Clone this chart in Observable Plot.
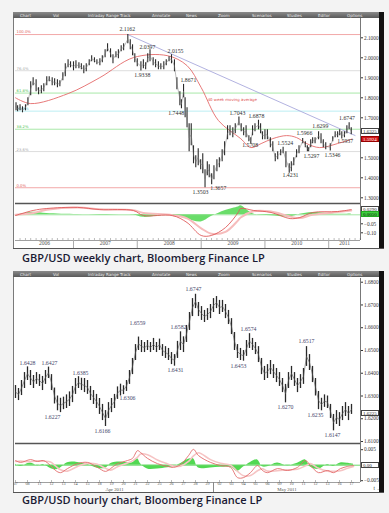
<!DOCTYPE html>
<html><head><meta charset="utf-8">
<script src="https://cdn.jsdelivr.net/npm/d3@7"></script>
<script src="https://cdn.jsdelivr.net/npm/@observablehq/plot@0.6"></script>
<style>
html,body{margin:0;padding:0}
body{width:389px;height:513px;background:#f3f3f3;position:relative;overflow:hidden}
.toolbar{position:absolute;height:6px;background:linear-gradient(#8a8a8a,#5a5a5a);overflow:hidden}
.toolbar span{position:absolute;top:0.5px;font:4px "DejaVu Sans";color:#eee;white-space:nowrap}
.cap{position:absolute;left:22px;font:600 11px "Open Sans";color:#1a1a33;white-space:nowrap;line-height:16px}
.tag{position:absolute;font:5px "Liberation Serif";white-space:nowrap;padding-left:1px;box-sizing:border-box}
</style></head><body>
<script>
// ================= WEEKLY CHART DATA =================
const weeklyDates = ["2006-02-06","2006-02-15","2006-03-01","2006-03-15","2006-04-01","2006-04-15","2006-05-01","2006-05-15","2006-06-01","2006-06-15","2006-07-01","2006-07-15","2006-08-01","2006-08-15","2006-09-01","2006-09-15","2006-10-01","2006-10-15","2006-11-01","2006-11-15","2006-12-01","2006-12-15",
"2007-01-01","2007-01-15","2007-02-01","2007-02-15","2007-03-01","2007-03-15","2007-04-01","2007-04-15","2007-05-01","2007-05-15","2007-06-01","2007-06-15","2007-07-01","2007-07-15","2007-08-01","2007-08-15","2007-09-01","2007-09-15","2007-10-01","2007-10-15","2007-11-08","2007-11-22","2007-12-05","2007-12-18",
"2008-01-01","2008-01-22","2008-02-05","2008-02-18","2008-03-01","2008-03-14","2008-04-01","2008-04-15","2008-05-01","2008-05-15","2008-06-01","2008-06-15","2008-07-01","2008-07-15","2008-08-01","2008-08-15","2008-09-01","2008-09-10","2008-09-22","2008-10-01","2008-10-12","2008-10-24","2008-11-05","2008-11-18","2008-12-01","2008-12-15","2008-12-29",
"2009-01-10","2009-01-23","2009-02-05","2009-02-16","2009-03-02","2009-03-15","2009-04-01","2009-04-15","2009-05-01","2009-05-15","2009-06-01","2009-06-15","2009-07-01","2009-07-15","2009-08-05","2009-08-18","2009-09-01","2009-09-15","2009-10-01","2009-10-12","2009-10-22","2009-11-05","2009-11-25","2009-12-07","2009-12-18",
"2010-01-01","2010-01-15","2010-02-01","2010-02-15","2010-03-01","2010-03-15","2010-04-01","2010-04-15","2010-05-01","2010-05-20","2010-06-01","2010-06-15","2010-07-01","2010-07-15","2010-08-05","2010-08-20","2010-09-01","2010-09-08","2010-09-20","2010-10-01","2010-10-15","2010-11-04","2010-11-18","2010-12-01","2010-12-15",
"2011-01-10","2011-01-24","2011-02-07","2011-02-21","2011-03-05","2011-03-17","2011-04-01","2011-04-15","2011-04-28","2011-05-10"];
const weeklyLow = [1.735,1.730,1.735,1.725,1.735,1.760,1.810,1.860,1.830,1.815,1.820,1.830,1.860,1.880,1.860,1.860,1.850,1.855,1.885,1.905,1.950,1.950,
1.935,1.945,1.945,1.940,1.920,1.930,1.960,1.980,1.975,1.965,1.960,1.975,2.000,2.030,2.000,1.970,2.000,1.995,2.030,2.035,2.070,2.040,2.010,1.975,
1.955,1.9338,1.945,1.940,1.975,1.980,1.960,1.950,1.940,1.940,1.940,1.960,1.980,1.970,1.930,1.840,1.760,1.7448,1.800,1.700,1.650,1.530,1.560,1.470,1.450,1.460,1.440,
1.420,1.3503,1.410,1.400,1.3657,1.390,1.430,1.450,1.480,1.510,1.590,1.610,1.600,1.620,1.660,1.630,1.610,1.600,1.580,1.5708,1.610,1.630,1.640,1.620,1.590,
1.590,1.590,1.550,1.530,1.480,1.490,1.510,1.520,1.450,1.4231,1.430,1.460,1.500,1.520,1.570,1.550,1.530,1.5297,1.550,1.570,1.570,1.590,1.570,1.550,1.540,
1.5346,1.580,1.600,1.600,1.610,1.5937,1.600,1.620,1.640,1.615];
const weeklyHigh = [1.775,1.760,1.765,1.755,1.765,1.800,1.880,1.900,1.890,1.850,1.860,1.870,1.905,1.905,1.900,1.895,1.890,1.885,1.925,1.970,1.990,1.980,
1.980,1.985,1.975,1.970,1.960,1.970,1.990,2.010,2.000,1.990,1.995,2.010,2.040,2.070,2.045,2.015,2.030,2.040,2.060,2.070,2.1162,2.090,2.065,2.020,
1.995,1.980,1.990,1.975,2.020,2.0397,2.000,1.990,1.980,1.970,1.980,1.990,2.005,2.0155,1.990,1.900,1.830,1.790,1.8671,1.800,1.750,1.670,1.670,1.560,1.510,1.545,1.490,
1.520,1.440,1.480,1.465,1.420,1.460,1.490,1.500,1.540,1.580,1.660,1.660,1.650,1.670,1.7043,1.670,1.650,1.660,1.610,1.600,1.660,1.670,1.6878,1.670,1.630,
1.640,1.640,1.600,1.580,1.520,1.530,1.540,1.5524,1.530,1.470,1.480,1.500,1.540,1.560,1.5966,1.580,1.560,1.550,1.590,1.600,1.600,1.6299,1.620,1.590,1.575,
1.570,1.605,1.630,1.630,1.640,1.630,1.630,1.660,1.6747,1.650];

const maDates = ["2006-02-03","2006-05-01","2006-12-01","2007-06-01","2007-12-10","2008-06-20","2008-10-12","2009-01-01","2009-04-10","2009-08-15","2009-10-12","2009-12-10","2010-02-15","2010-05-05","2010-07-01","2010-08-28","2010-11-10","2011-02-20","2011-05-15"];
const maValues = [1.800,1.771,1.821,1.901,2.001,2.011,1.961,1.851,1.686,1.596,1.551,1.571,1.596,1.611,1.601,1.571,1.551,1.571,1.594];

const trendDates = ["2007-11-08","2011-06-01"];
const trendValues = [2.1162, 1.6115];

const fibHigh = 2.1162, fibLow = 1.3503;
const fibRatios = [1, 0.764, 0.618, 0.5, 0.382, 0.236, 0];
const fibNames = ["100.0%","76.4%","61.8%","50.0%","38.2%","23.6%","0.0%"];
const fibLineColors = ["#f2a8a8","#dddddd","#a8e8a8","#bdeef3","#a8e8a8","#dddddd","#f2a8a8"];
const fibTextColors = ["#e06060","#aaaaaa","#55c455","#66c6d2","#55c455","#aaaaaa","#e06060"];

const weeklyLabelText = ["2.1162","2.0397","2.0155","1.9338","1.8671","1.7448","1.7043","1.6878","1.6299","1.6747","1.5966","1.5524","1.5297","1.5346","1.5937","1.5708","1.4231","1.3503","1.3657"];
const weeklyLabelDates = ["2007-11-05","2008-02-28","2008-08-07","2008-01-30","2008-10-20","2008-08-11","2009-07-27","2009-11-13","2010-11-14","2011-04-16","2010-08-15","2010-04-27","2010-09-24","2011-01-23","2011-04-05","2009-10-08","2010-05-27","2008-12-28","2009-04-09"];
const weeklyLabelPrices = [2.1415,2.0515,2.0315,1.9115,1.8865,1.7215,1.7215,1.7065,1.6565,1.6965,1.6215,1.5715,1.508,1.5115,1.583,1.5615,1.411,1.328,1.346];
const maLabelText = ["40 week moving average"];
const maLabelDates = ["2009-06-28"];
const maLabelPrices = [1.79];

const weeklyPriceTicks = [2.1,2.0,1.9,1.8,1.7,1.5,1.4,1.3];
const weeklyLastPrice = 1.6325;
const weeklyMaTag = 1.5924;

const weeklyOscDates = ["2006-02-03","2006-05-15","2006-08-01","2007-01-25","2007-06-01","2007-12-10","2008-02-05","2008-07-20","2008-10-12","2009-01-01","2009-02-28","2009-05-20","2009-08-01","2009-08-15","2009-10-28","2010-02-05","2010-05-25","2010-07-20","2010-10-01","2011-02-20","2011-05-10"];
const weeklyMacd = [-0.004,0.024,0.035,0.041,0.029,0.024,-0.004,-0.004,-0.043,-0.115,-0.115,-0.071,0.013,0.035,0.024,0.013,-0.021,-0.015,0.013,0.018,0.029];
const weeklySignal = [0.000,0.010,0.028,0.040,0.031,0.025,0.010,-0.002,-0.020,-0.075,-0.105,-0.095,-0.030,-0.015,0.020,0.018,-0.010,-0.018,0.000,0.015,0.024];
const weeklyOscTicks = [-0.05,-0.10];

const yearLabels = ["2006","2007","2008","2009","2010","2011"];
const yearStarts = ["2006-01-01","2007-01-01","2008-01-01","2009-01-01","2010-01-01","2011-01-01","2012-01-01"];

// ================= HOURLY CHART DATA =================
const hourlyStep = 0.25; // trading days between samples
const hourlyHigh = [1.6346,1.6333,1.6368,1.6403,1.6428,1.6412,1.6390,1.6403,1.6394,1.6386,1.6412,1.6427,1.6394,1.6335,1.6300,1.6290,1.6295,1.6305,1.6318,1.6342,
1.6377,1.6385,1.6378,1.6377,1.6368,1.6342,1.6324,1.6307,1.6289,1.6263,1.6236,1.6271,1.6289,1.6307,1.6340,1.6352,1.6345,1.6368,1.6412,1.6465,
1.6526,1.6559,1.6544,1.6535,1.6544,1.6535,1.6553,1.6535,1.6550,1.6526,1.6517,1.6509,1.6491,1.6482,1.6540,1.6582,1.6560,1.6610,1.6667,1.6728,
1.6747,1.6711,1.6693,1.6676,1.6684,1.6702,1.6728,1.6737,1.6720,1.6720,1.6702,1.6676,1.6640,1.6579,1.6526,1.6509,1.6500,1.6544,1.6574,1.6553,
1.6535,1.6517,1.6465,1.6430,1.6438,1.6456,1.6438,1.6421,1.6403,1.6377,1.6351,1.6403,1.6430,1.6403,1.6377,1.6394,1.6421,1.6517,1.6482,1.6430,
1.6377,1.6320,1.6290,1.6305,1.6300,1.6263,1.6219,1.6236,1.6227,1.6254,1.6271,1.6254,1.6263];
const hourlyLow = [1.6289,1.6280,1.6302,1.6333,1.6368,1.6346,1.6333,1.6351,1.6342,1.6324,1.6351,1.6377,1.6324,1.6265,1.6235,1.6227,1.6240,1.6245,1.6254,1.6271,
1.6307,1.6333,1.6324,1.6315,1.6307,1.6280,1.6263,1.6245,1.6219,1.6192,1.6166,1.6201,1.6227,1.6245,1.6285,1.6300,1.6306,1.6320,1.6351,1.6394,
1.6456,1.6500,1.6491,1.6491,1.6500,1.6491,1.6500,1.6491,1.6500,1.6474,1.6465,1.6456,1.6438,1.6431,1.6465,1.6500,1.6491,1.6535,1.6588,1.6649,
1.6684,1.6649,1.6632,1.6623,1.6632,1.6640,1.6667,1.6684,1.6658,1.6667,1.6640,1.6614,1.6570,1.6500,1.6465,1.6456,1.6453,1.6474,1.6509,1.6500,
1.6482,1.6447,1.6394,1.6368,1.6377,1.6394,1.6377,1.6359,1.6342,1.6315,1.6270,1.6333,1.6368,1.6342,1.6315,1.6333,1.6351,1.6430,1.6412,1.6359,
1.6300,1.6240,1.6235,1.6250,1.6245,1.6201,1.6147,1.6175,1.6166,1.6192,1.6210,1.6192,1.6219];

const hourlyLabelText = ["1.6428","1.6427","1.6385","1.6227","1.6166","1.6306","1.6559","1.6431","1.6582","1.6747","1.6453","1.6574","1.6270","1.6517","1.6235","1.6147"];
const hourlyLabelT = [1.0,2.83,5.42,3.08,7.25,9.33,10.17,13.33,13.58,14.83,18.58,19.42,22.5,24.25,25.0,26.42];
const hourlyLabelPrice = [1.6443,1.6443,1.6399,1.6205,1.6144,1.6289,1.6619,1.6412,1.6601,1.6768,1.6430,1.6592,1.6249,1.6539,1.6214,1.6126];

const hourlyPriceTicks = [1.68,1.67,1.66,1.65,1.64,1.63,1.62,1.61];
const hourlyLastPrice = 1.6225;

const hourlyOscT = [0.0,0.42,1.25,1.83,2.33,2.92,3.33,3.75,4.33,5.17,6.0,6.83,7.5,7.92,8.5,9.33,9.75,10.17,10.42,11.0,11.83,12.67,13.17,13.75,14.42,14.83,15.25,16.25,17.08,17.92,18.5,19.0,19.58,20.17,20.58,21.0,21.83,22.67,23.5,24.17,24.58,25.25,26.0,26.5,27.08,27.67,28.17];
const hourlyMacd = [0.0015,0.0009,0.0018,0.0012,0.0015,-0.0001,-0.0017,-0.0024,-0.0011,0.0005,0.0009,-0.0007,-0.0020,-0.0011,0.0005,0.0015,0.0022,0.0047,0.0041,0.0022,0.0005,-0.0004,-0.0007,0.0002,0.0031,0.0051,0.0031,0.0009,-0.0001,-0.0007,-0.0040,-0.0040,-0.0024,-0.0001,-0.0017,-0.0024,-0.0011,-0.0017,-0.0007,0.0015,-0.0001,-0.0024,-0.0017,-0.0024,-0.0011,-0.0004,-0.0001];
const hourlySignal = [0.0012,0.0013,0.0011,0.0014,0.0013,0.0010,-0.0002,-0.0015,-0.0019,-0.0004,0.0006,0.0003,-0.0010,-0.0016,-0.0005,0.0007,0.0014,0.0026,0.0036,0.0034,0.0017,0.0004,-0.0003,-0.0003,0.0012,0.0030,0.0040,0.0018,0.0006,0.0000,-0.0020,-0.0034,-0.0033,-0.0018,-0.0012,-0.0019,-0.0018,-0.0015,-0.0013,-0.0002,0.0005,-0.0010,-0.0019,-0.0020,-0.0018,-0.0010,-0.0004];
const hourlyOscTicks = [0.005,-0.005];
const hourlyOscTagText = "0.00";

const dayLabels = ["07","08","11","12","13","14","15","18","19","20","21","22","25","26","27","28","29","02","03","04","05","06","09","10","11","12","13","16","17"];
const monthLabels = ["Apr 2011","May 2011"];
const monthBreaks = [16.5];

// ================= BUILD =================
const parse = d3.utcParse("%Y-%m-%d");
const W = 371;
const baseStyle = {background:"transparent", fontFamily:"'Liberation Serif', serif", fontSize:"5.3px", color:"#333", overflow:"visible"};

function addDiv(cls, css, text){ const d=document.createElement("div"); if(cls) d.className=cls; Object.assign(d.style, css); if(text!=null) d.textContent=text; document.body.appendChild(d); return d; }
function mount(fig,left,top){ Object.assign(fig.style,{position:"absolute",left:left+"px",top:top+"px"}); document.body.appendChild(fig); return fig; }
function yOf(fig, v){ const s=fig.scale("y"); if (s && typeof s.apply==="function") return s.apply(v); const [d0,d1]=s.domain,[r0,r1]=s.range; return r0+(v-d0)/(d1-d0)*(r1-r0); }
function tag(fig, top, v, text, bg, fg, border){ const y = top + yOf(fig, v); addDiv("tag",{left:"361px", top:(y-3)+"px", width:"18px", height:"6px", lineHeight:"6px", background:bg, color:fg, border:"0.6px solid "+border}, text); }
const toolbarItems = [["Chart",20],["Vol",53],["Intraday Range",88],["Track",120],["Annotate",152],["News",186],["Zoom",218],["Scenarios",252],["Studies",287],["Editor",318],["Options",347]];
function toolbar(top){ const bar = addDiv("toolbar",{left:"13px",top:top+"px",width:"371px"}); toolbarItems.forEach(([t,x])=>{ const s=document.createElement("span"); s.textContent=t; s.style.left=(x-13)+"px"; bar.appendChild(s); }); }

// chart frames
addDiv(null,{position:"absolute",left:"13px",top:"12px",width:"371px",height:"237px",background:"#fff",borderLeft:"1.5px solid #7a7a7a",boxSizing:"border-box"});
addDiv(null,{position:"absolute",left:"13px",top:"271px",width:"371px",height:"222px",background:"#fff",borderLeft:"1.5px solid #7a7a7a",boxSizing:"border-box"});

// ---------- weekly price ----------
const wDomain = [parse("2006-02-03"), parse("2011-07-02")];
const weekly = weeklyDates.map((d,i)=>({date:parse(d), lo:weeklyLow[i], hi:weeklyHigh[i]}));
const ma = maDates.map((d,i)=>({date:parse(d), value:maValues[i]}));
const trend = trendDates.map((d,i)=>({date:parse(d), value:trendValues[i]}));
const fib = fibRatios.map((r,i)=>({level:fibLow + r*(fibHigh-fibLow), name:fibNames[i], line:fibLineColors[i], txt:fibTextColors[i]}));
const wLabels = weeklyLabelText.map((t,i)=>({text:t, date:parse(weeklyLabelDates[i]), price:weeklyLabelPrices[i]}));
const maLabel = maLabelText.map((t,i)=>({text:t, date:parse(maLabelDates[i]), price:maLabelPrices[i]}));

const wPrice = Plot.plot({
  width:W, height:185, marginLeft:2, marginRight:24, marginTop:0, marginBottom:0,
  x:{type:"utc", domain:wDomain, axis:null},
  y:{domain:[1.2715, 2.1965]},
  style:baseStyle,
  marks:[
    Plot.ruleY(fib, {y:"level", stroke:"line", strokeWidth:1}),
    Plot.text(fib, {y:"level", text:"name", frameAnchor:"left", textAnchor:"start", dx:1, dy:-2.3, fill:"txt", fontSize:3.8, fontFamily:"DejaVu Sans"}),
    Plot.line(trend, {x:"date", y:"value", stroke:"#a9a9dc", strokeWidth:0.9}),
    Plot.line(ma, {x:"date", y:"value", stroke:"#e46a6a", strokeWidth:0.9, curve:"catmull-rom"}),
    Plot.ruleX(weekly, {x:"date", y1:"lo", y2:"hi", stroke:"#2a2a2a", strokeWidth:1.1}),
    Plot.line(weekly, {x:"date", y:d=>(d.lo+d.hi)/2, stroke:"#777", strokeWidth:0.5}),
    Plot.text(wLabels, {x:"date", y:"price", text:"text", fill:"#2e2e2e", fontSize:5.8}),
    Plot.text(maLabel, {x:"date", y:"price", text:"text", fill:"#e05050", fontSize:3.9, fontFamily:"DejaVu Sans"}),
    Plot.ruleX([wDomain[1]], {stroke:"#555", strokeWidth:0.8}),
    Plot.axisY({anchor:"right", ticks:weeklyPriceTicks, tickFormat:d3.format(".4f"), tickSize:2, tickPadding:1.5, fontSize:5.3, stroke:"#333", fill:"#333"})
  ]
});
mount(wPrice, 13, 18);

// ---------- weekly oscillator ----------
const wOsc = weeklyOscDates.map((d,i)=>({date:parse(d), macd:weeklyMacd[i], sig:weeklySignal[i], hist:weeklyMacd[i]-weeklySignal[i]}));
const wYears = yearLabels.map((y,i)=>{ const a=Math.max(+parse(yearStarts[i]), +wDomain[0]); const b=Math.min(+parse(yearStarts[i+1]), +wDomain[1]); return {label:y, mid:new Date((a+b)/2)}; });
const wYearTicks = yearStarts.slice(1,6).map(parse);
const wMonthTicks = d3.utcMonth.range(wDomain[0], wDomain[1]);
const wOscDomain = [-0.1428, 0.0628];
const wOscFig = Plot.plot({
  width:W, height:45, marginLeft:2, marginRight:24, marginTop:0, marginBottom:8,
  x:{type:"utc", domain:wDomain},
  y:{domain:wOscDomain},
  style:baseStyle,
  marks:[
    Plot.areaY(wOsc, {x:"date", y1:0, y2:"hist", fill:"#44d444", fillOpacity:0.8, curve:"catmull-rom"}),
    Plot.ruleY([0], {stroke:"#8ee08e", strokeWidth:0.8}),
    Plot.line(wOsc, {x:"date", y:"sig", stroke:"#f6bcbc", strokeWidth:2, curve:"catmull-rom"}),
    Plot.line(wOsc, {x:"date", y:"macd", stroke:"#e05a5a", strokeWidth:0.9, curve:"catmull-rom"}),
    Plot.ruleX(wMonthTicks, {stroke:"#777", strokeWidth:0.5, insetTop:35}),
    Plot.ruleY([wOscDomain[1]], {stroke:"#555", strokeWidth:1.4}),
    Plot.ruleY([wOscDomain[0]], {stroke:"#888", strokeWidth:0.8}),
    Plot.ruleX([wDomain[1]], {stroke:"#555", strokeWidth:0.8}),
    Plot.axisY({anchor:"right", ticks:weeklyOscTicks, tickFormat:d3.format(".2f"), tickSize:2, tickPadding:1.5, fontSize:5.3, stroke:"#333", fill:"#333"}),
    Plot.axisX({ticks:wYearTicks, tickSize:8, tickFormat:()=>"", stroke:"#aaa"}),
    Plot.text(wYears, {x:"mid", text:"label", frameAnchor:"bottom", dy:4.5, fontSize:5.5, fill:"#555"})
  ]
});
mount(wOscFig, 13, 203);

// ---------- hourly price ----------
const hDomain = [0, 28.75];
const hourly = hourlyHigh.map((h,i)=>({t:i*hourlyStep, hi:h, lo:hourlyLow[i]}));
const hLabels = hourlyLabelText.map((t,i)=>({text:t, t:hourlyLabelT[i], price:hourlyLabelPrice[i]}));
const hPrice = Plot.plot({
  width:W, height:165, marginLeft:2, marginRight:24, marginTop:0, marginBottom:0,
  x:{domain:hDomain, axis:null},
  y:{domain:[1.60913, 1.68163]},
  style:baseStyle,
  marks:[
    Plot.ruleX(hourly, {x:"t", y1:"lo", y2:"hi", stroke:"#2a2a2a", strokeWidth:1.3}),
    Plot.line(hourly, {x:"t", y:d=>(d.lo+d.hi)/2, stroke:"#555", strokeWidth:0.6}),
    Plot.text(hLabels, {x:"t", y:"price", text:"text", fill:"#45456a", fontSize:5.8}),
    Plot.ruleX([hDomain[1]], {stroke:"#555", strokeWidth:0.8}),
    Plot.axisY({anchor:"right", ticks:hourlyPriceTicks, tickFormat:d3.format(".4f"), tickSize:2, tickPadding:1.5, fontSize:5.3, stroke:"#333", fill:"#333"})
  ]
});
mount(hPrice, 13, 278);

// ---------- hourly oscillator ----------
const hOsc = hourlyOscT.map((t,i)=>({t, macd:hourlyMacd[i], sig:hourlySignal[i], hist:hourlyMacd[i]-hourlySignal[i]}));
const hDays = dayLabels.map((l,i)=>({label:l, t:i}));
const hMonthEdges = [hDomain[0], ...monthBreaks, hDomain[1]];
const hMonths = monthLabels.map((l,i)=>({label:l, t:(hMonthEdges[i]+hMonthEdges[i+1])/2}));
const hOscDomain = [-0.00558, 0.0070];
const hOscFig = Plot.plot({
  width:W, height:49, marginLeft:2, marginRight:24, marginTop:0, marginBottom:10,
  x:{domain:hDomain},
  y:{domain:hOscDomain},
  style:baseStyle,
  marks:[
    Plot.areaY(hOsc, {x:"t", y1:0, y2:"hist", fill:"#3fd43f", fillOpacity:0.9, curve:"catmull-rom"}),
    Plot.ruleY([0], {stroke:"#6ad86a", strokeWidth:1}),
    Plot.line(hOsc, {x:"t", y:"sig", stroke:"#f6c4c4", strokeWidth:1.6, curve:"catmull-rom"}),
    Plot.line(hOsc, {x:"t", y:"macd", stroke:"#e26a6a", strokeWidth:0.9, curve:"catmull-rom"}),
    Plot.ruleX(hDays, {x:"t", stroke:"#777", strokeWidth:0.5, insetTop:37}),
    Plot.ruleY([hOscDomain[1]], {stroke:"#555", strokeWidth:1.4}),
    Plot.ruleY([hOscDomain[0]], {stroke:"#888", strokeWidth:0.8}),
    Plot.ruleX([hDomain[1]], {stroke:"#555", strokeWidth:0.8}),
    Plot.axisY({anchor:"right", ticks:hourlyOscTicks, tickFormat:d3.format(".3f"), tickSize:2, tickPadding:1.5, fontSize:5.3, stroke:"#333", fill:"#333"}),
    Plot.axisX({ticks:monthBreaks, tickSize:10, tickFormat:()=>"", stroke:"#888"}),
    Plot.text(hDays, {x:"t", text:"label", frameAnchor:"bottom", dy:2.8, fontSize:4.2, fill:"#555"}),
    Plot.text(hMonths, {x:"t", text:"label", frameAnchor:"bottom", dy:8, fontSize:4.8, fill:"#555"})
  ]
});
mount(hOscFig, 13, 443);

// ---------- value tags ----------
tag(wPrice, 18, weeklyLastPrice, d3.format(".4f")(weeklyLastPrice), "#fff", "#222", "#444");
tag(wPrice, 18, weeklyMaTag, d3.format(".4f")(weeklyMaTag), "#d01818", "#fff", "#900");
const wl = wOsc[wOsc.length-1];
tag(wOscFig, 203, wl.macd, d3.format(".4f")(wl.macd), "#fff", "#222", "#444");
tag(wOscFig, 203, wl.hist - 0.004, d3.format(".4f")(wl.hist), "#3fcf3f", "#111", "#2a2");
tag(hPrice, 278, hourlyLastPrice, d3.format(".4f")(hourlyLastPrice), "#fff", "#222", "#444");
tag(hOscFig, 443, 0, hourlyOscTagText, "#fff", "#222", "#444");

// ---------- chrome ----------
toolbar(12);
toolbar(271);
addDiv(null,{position:"absolute",left:"379px",top:"12px",width:"5px",height:"237px",background:"#111"});
addDiv(null,{position:"absolute",left:"379px",top:"271px",width:"5px",height:"222px",background:"#111"});
addDiv(null,{position:"absolute",left:"13px",top:"248px",width:"371px",height:"1px",background:"#555"});
addDiv(null,{position:"absolute",left:"13px",top:"492px",width:"371px",height:"1px",background:"#555"});
addDiv("cap",{top:"250px"},"GBP/USD weekly chart, Bloomberg Finance LP");
addDiv("cap",{top:"492px"},"GBP/USD hourly chart, Bloomberg Finance LP");
</script>
</body></html>
